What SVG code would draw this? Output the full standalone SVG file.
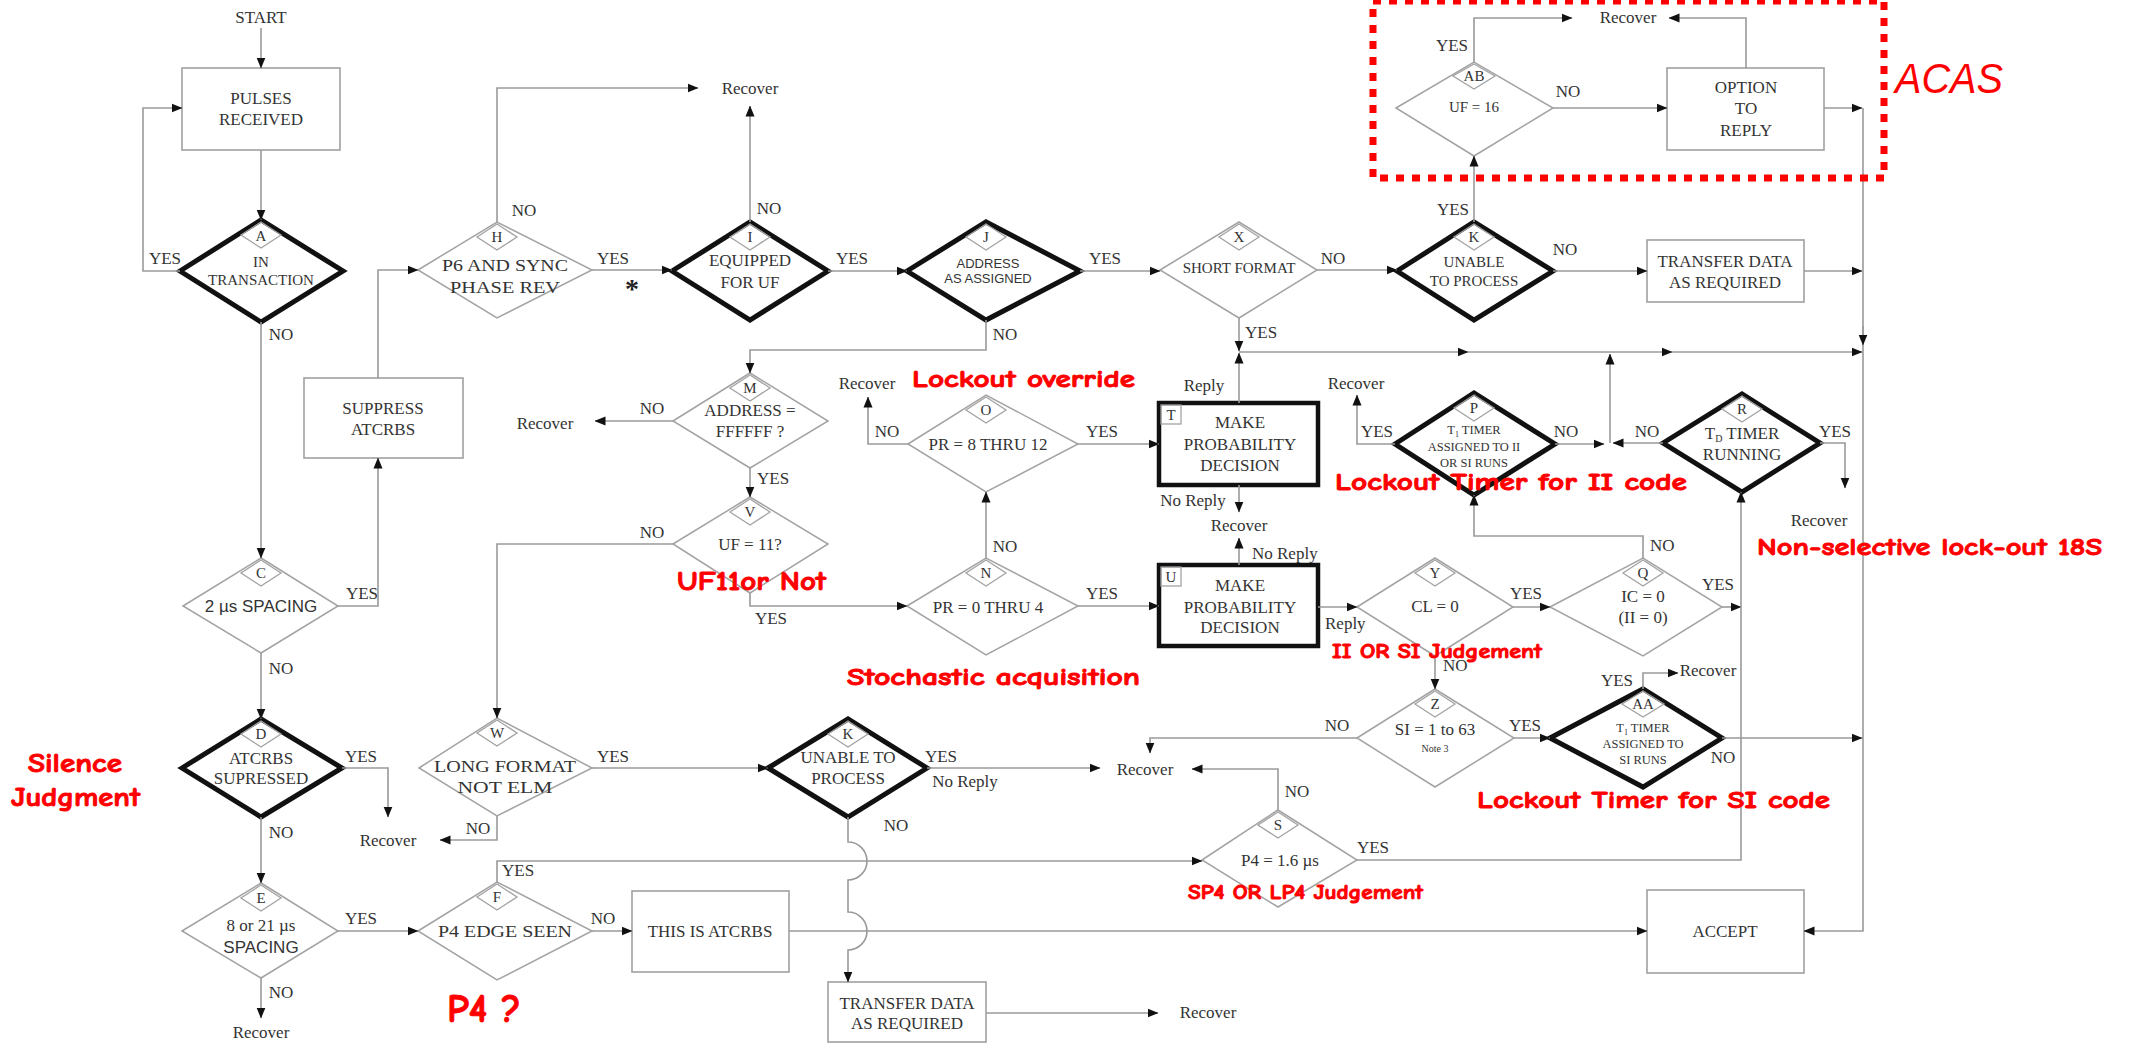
<svg xmlns="http://www.w3.org/2000/svg" width="2133" height="1044" viewBox="0 0 2133 1044">
<defs>
<marker id="ah" markerWidth="11" markerHeight="10" refX="10.5" refY="5" orient="auto" markerUnits="userSpaceOnUse"><path d="M0,0.5 L11,5 L0,9.5 z" fill="#111"/></marker>
<style>
.ln{fill:none;stroke:#9a9a9a;stroke-width:1.6}
.thin{fill:#fff;stroke:#a3a3a3;stroke-width:1.5}
.thick{fill:#fff;stroke:#111;stroke-width:5;stroke-linejoin:miter}
.lbl{fill:none;stroke:#a3a3a3;stroke-width:1.3}
.box{fill:#fff;stroke:#a0a0a0;stroke-width:1.6}
.tbox{fill:#fff;stroke:#111;stroke-width:4.5}
text{font-family:"Liberation Serif","Times New Roman",serif;font-size:17px;fill:#333;text-anchor:middle}
.s{font-family:"Liberation Sans",Arial,sans-serif}
.m{font-size:15px}
.sm{font-size:12.5px}
.l{text-anchor:start}
.red{font-family:"Comic Sans MS","Comic Neue","DejaVu Sans",sans-serif;font-weight:bold;fill:#ff0000;stroke:#ff0000;stroke-width:0.9;text-anchor:start}
</style>
</defs>
<rect width="2133" height="1044" fill="#fff"/>

<g id="nodes">
<g id="start"><text x="261" y="23">START</text></g>
<g id="pulses"><rect class="box" x="182" y="68" width="158" height="82"/><text x="261" y="104">PULSES</text><text x="261" y="125">RECEIVED</text></g>
<g id="A"><polygon class="thick" points="180,271 261,220 343,271 261,322"/><polygon class="lbl" points="261,222 281,235 261,248 241,235"/><text class="m" x="261" y="241">A</text><text class="m" x="261" y="267">IN</text><text class="m" x="261" y="285">TRANSACTION</text></g>
<g id="H"><polygon class="thin" points="418,270 497,222 592,270 497,318"/><polygon class="lbl" points="497,224 517,237 497,250 477,237"/><text class="m" x="497" y="242">H</text><text x="505" y="271" textLength="126" lengthAdjust="spacingAndGlyphs">P6 AND SYNC</text><text x="505" y="293" textLength="110" lengthAdjust="spacingAndGlyphs">PHASE REV</text></g>
<g id="I"><polygon class="thick" points="672,271 750,222 828,271 750,320"/><polygon class="lbl" points="750,224 770,237 750,250 730,237"/><text class="m" x="750" y="242">I</text><text x="750" y="266">EQUIPPED</text><text x="750" y="288">FOR UF</text></g>
<g id="J"><polygon class="thick" points="907,271 986,222 1080,271 986,320"/><polygon class="lbl" points="986,224 1006,237 986,250 966,237"/><text class="m" x="986" y="242">J</text><text class="s" style="font-size:13px" x="988" y="268">ADDRESS</text><text class="s" style="font-size:13px" x="988" y="283">AS ASSIGNED</text></g>
<g id="X"><polygon class="thin" points="1160,270 1239,222 1317,270 1239,318"/><polygon class="lbl" points="1239,224 1259,237 1239,250 1219,237"/><text class="m" x="1239" y="242">X</text><text class="m" x="1239" y="273">SHORT FORMAT</text></g>
<g id="K"><polygon class="thick" points="1397,271 1474,222 1553,271 1474,320"/><polygon class="lbl" points="1474,224 1494,237 1474,250 1454,237"/><text class="m" x="1474" y="242">K</text><text class="m" x="1474" y="267">UNABLE</text><text class="m" x="1474" y="286">TO PROCESS</text></g>
<g id="AB"><polygon class="thin" points="1396,108 1474,62 1553,108 1474,156"/><polygon class="lbl" points="1474,64 1495,76 1474,89 1453,76"/><text class="m" x="1474" y="81">AB</text><text class="m" x="1474" y="112">UF = 16</text></g>
<g id="option"><rect class="box" x="1667" y="68" width="157" height="82"/><text x="1746" y="93">OPTION</text><text x="1746" y="114">TO</text><text x="1746" y="136">REPLY</text></g>
<g id="transfer1"><rect class="box" x="1647" y="240" width="157" height="62"/><text x="1725" y="267">TRANSFER DATA</text><text x="1725" y="288">AS REQUIRED</text></g>
<g id="suppress"><rect class="box" x="304" y="378" width="159" height="80"/><text x="383" y="414">SUPPRESS</text><text x="383" y="435">ATCRBS</text></g>
<g id="M"><polygon class="thin" points="673,421 750,373 828,421 750,468"/><polygon class="lbl" points="750,375 770,388 750,401 730,388"/><text class="m" x="750" y="393">M</text><text x="750" y="416">ADDRESS =</text><text x="750" y="437">FFFFFF ?</text></g>
<g id="O"><polygon class="thin" points="908,444 986,395 1078,444 986,492"/><polygon class="lbl" points="986,397 1006,410 986,423 966,410"/><text class="m" x="986" y="415">O</text><text x="988" y="450">PR = 8 THRU 12</text></g>
<g id="T"><rect class="tbox" x="1159" y="403" width="159" height="82"/><rect class="lbl" x="1161" y="405" width="20" height="19"/><text class="m" x="1171" y="420">T</text><text x="1240" y="428">MAKE</text><text x="1240" y="450">PROBABILITY</text><text x="1240" y="471">DECISION</text></g>
<g id="P"><polygon class="thick" points="1395,444 1474,393 1555,444 1474,495"/><polygon class="lbl" points="1474,395 1494,408 1474,421 1454,408"/><text class="m" x="1474" y="413">P</text><text class="sm" x="1474" y="434">T<tspan font-size="8" dy="3">1</tspan><tspan dy="-3"> TIMER</tspan></text><text class="sm" x="1474" y="451">ASSIGNED TO II</text><text class="sm" x="1474" y="467">OR SI RUNS</text></g>
<g id="R"><polygon class="thick" points="1663,443 1742,394 1820,443 1742,492"/><polygon class="lbl" points="1742,396 1762,409 1742,422 1722,409"/><text class="m" x="1742" y="414">R</text><text x="1742" y="439">T<tspan font-size="10" dy="3">D</tspan><tspan dy="-3"> TIMER</tspan></text><text x="1742" y="460">RUNNING</text></g>
<g id="C"><polygon class="thin" points="183,606 261,558 338,606 261,653"/><polygon class="lbl" points="261,560 281,573 261,586 241,573"/><text class="m" x="261" y="578">C</text><text class="s" x="261" y="612">2 µs SPACING</text></g>
<g id="V"><polygon class="thin" points="673,544 750,497 828,544 750,593"/><polygon class="lbl" points="750,499 770,512 750,525 730,512"/><text class="m" x="750" y="517">V</text><text x="750" y="550">UF = 11?</text></g>
<g id="N"><polygon class="thin" points="907,606 986,558 1078,606 986,655"/><polygon class="lbl" points="986,560 1006,573 986,586 966,573"/><text class="m" x="986" y="578">N</text><text x="988" y="613">PR = 0 THRU 4</text></g>
<g id="U"><rect class="tbox" x="1159" y="565" width="159" height="81"/><rect class="lbl" x="1161" y="567" width="20" height="19"/><text class="m" x="1171" y="582">U</text><text x="1240" y="591">MAKE</text><text x="1240" y="613">PROBABILITY</text><text x="1240" y="633">DECISION</text></g>
<g id="Y"><polygon class="thin" points="1357,607 1435,558 1513,607 1435,656"/><polygon class="lbl" points="1435,560 1455,573 1435,586 1415,573"/><text class="m" x="1435" y="578">Y</text><text x="1435" y="612">CL = 0</text></g>
<g id="Q"><polygon class="thin" points="1550,607 1643,558 1722,607 1643,656"/><polygon class="lbl" points="1643,560 1663,573 1643,586 1623,573"/><text class="m" x="1643" y="578">Q</text><text x="1643" y="602">IC = 0</text><text x="1643" y="623">(II = 0)</text></g>
<g id="D"><polygon class="thick" points="182,768 261,719 342,768 261,817"/><polygon class="lbl" points="261,721 281,734 261,747 241,734"/><text class="m" x="261" y="739">D</text><text x="261" y="764">ATCRBS</text><text x="261" y="784">SUPRESSED</text></g>
<g id="W"><polygon class="thin" points="419,768 497,718 592,768 497,816"/><polygon class="lbl" points="497,720 517,733 497,746 477,733"/><text class="m" x="497" y="738">W</text><text x="505" y="772" textLength="142" lengthAdjust="spacingAndGlyphs">LONG FORMAT</text><text x="505" y="793" textLength="95" lengthAdjust="spacingAndGlyphs">NOT ELM</text></g>
<g id="K2"><polygon class="thick" points="768,768 848,719 927,768 848,817"/><polygon class="lbl" points="848,721 868,734 848,747 828,734"/><text class="m" x="848" y="739">K</text><text x="848" y="763">UNABLE TO</text><text x="848" y="784">PROCESS</text></g>
<g id="Z"><polygon class="thin" points="1357,738 1435,689 1514,738 1435,787"/><polygon class="lbl" points="1435,691 1455,704 1435,717 1415,704"/><text class="m" x="1435" y="709">Z</text><text x="1435" y="735">SI = 1 to 63</text><text x="1435" y="752" style="font-size:10px">Note 3</text></g>
<g id="AA"><polygon class="thick" points="1550,738 1643,689 1722,738 1643,787"/><polygon class="lbl" points="1643,691 1664,704 1643,717 1622,704"/><text class="m" x="1643" y="709">AA</text><text class="sm" x="1643" y="732">T<tspan font-size="8" dy="3">1</tspan><tspan dy="-3"> TIMER</tspan></text><text class="sm" x="1643" y="748">ASSIGNED TO</text><text class="sm" x="1643" y="764">SI RUNS</text></g>
<g id="S"><polygon class="thin" points="1202,860 1278,810 1357,860 1278,907"/><polygon class="lbl" points="1278,812 1298,825 1278,838 1258,825"/><text class="m" x="1278" y="830">S</text><text x="1280" y="866">P4 = 1.6 µs</text></g>
<g id="E"><polygon class="thin" points="182,931 261,883 338,931 261,978"/><polygon class="lbl" points="261,885 281,898 261,911 241,898"/><text class="m" x="261" y="903">E</text><text x="261" y="931">8 or 21 µs</text><text class="s" x="261" y="953">SPACING</text></g>
<g id="F"><polygon class="thin" points="418,931 497,882 592,931 497,980"/><polygon class="lbl" points="497,884 517,897 497,910 477,897"/><text class="m" x="497" y="902">F</text><text x="505" y="937" textLength="134" lengthAdjust="spacingAndGlyphs">P4 EDGE SEEN</text></g>
<g id="atcrbs"><rect class="box" x="632" y="891" width="157" height="81"/><text x="710" y="937">THIS IS ATCRBS</text></g>
<g id="accept"><rect class="box" x="1647" y="890" width="157" height="83"/><text x="1725" y="937">ACCEPT</text></g>
<g id="transfer2"><rect class="box" x="828" y="982" width="158" height="60"/><text x="907" y="1009">TRANSFER DATA</text><text x="907" y="1029">AS REQUIRED</text></g>
</g>

<g id="connectors" class="ln" marker-end="url(#ah)">
<path d="M261,28 V68"/>
<path d="M261,150 V220"/>
<path d="M180,271 H143 V108 H182"/>
<path d="M261,322 V558"/>
<path d="M338,606 H378 V458"/>
<path d="M378,378 V270 H418"/>
<path d="M497,222 V88 H698"/>
<path d="M592,270 H672"/>
<path d="M750,222 V106"/>
<path d="M828,271 H907"/>
<path d="M1080,271 H1160"/>
<path d="M1317,270 H1397"/>
<path d="M1474,222 V156"/>
<path d="M1474,62 V18 H1572"/>
<path d="M1553,108 H1667"/>
<path d="M1746,68 V18 H1669"/>
<path d="M1824,108 H1862"/>
<path d="M1553,271 H1647"/>
<path d="M1804,271 H1862"/>
<path d="M1863,108 V931 H1804"/>
<path d="M1863,326 V345"/>
<path d="M986,320 V350 H750 V373"/>
<path d="M1239,318 V351"/>
<path d="M1239,403 V353"/>
<path d="M1239,352 H1468"/>
<path d="M1468,352 H1672"/>
<path d="M1672,352 H1862"/>
<path d="M673,421 H595"/>
<path d="M750,468 V497"/>
<path d="M673,544 H497 V718"/>
<path d="M750,593 V606 H907"/>
<path d="M986,558 V492"/>
<path d="M908,444 H868 V397"/>
<path d="M1078,444 H1159"/>
<path d="M1239,485 V512"/>
<path d="M1239,565 V538"/>
<path d="M1078,606 H1159"/>
<path d="M1318,607 H1357"/>
<path d="M1395,444 H1357 V395"/>
<path d="M1555,444 H1604"/>
<path d="M1663,443 H1613"/>
<path d="M1610,443 V354"/>
<path d="M1820,443 H1845 V488"/>
<path d="M1643,558 V536 H1474 V495"/>
<path d="M1513,607 H1550"/>
<path d="M1722,607 H1741"/>
<path d="M1435,656 V689"/>
<path d="M1514,738 H1550"/>
<path d="M1643,689 V673 H1678"/>
<path d="M1722,738 H1862"/>
<path d="M1357,738 H1150 V753"/>
<path d="M927,768 H1100"/>
<path d="M1278,810 V769 H1192"/>
<path d="M1357,860 H1741 V492"/>
<path d="M497,882 V861 H1202"/>
<path d="M261,653 V719"/>
<path d="M342,768 H388 V817"/>
<path d="M261,817 V883"/>
<path d="M592,768 H768"/>
<path d="M497,816 V840 H440"/>
<path d="M848,817 V842 A19,19 0 0 1 848,880 V912 A19,19 0 0 1 848,950 V982"/>
<path d="M338,931 H418"/>
<path d="M261,978 V1018"/>
<path d="M592,931 H632"/>
<path d="M789,931 H1647"/>
<path d="M986,1013 H1158"/>
</g>

<g id="labels">
<text x="165" y="264">YES</text>
<text x="281" y="340">NO</text>
<text x="524" y="216">NO</text>
<text x="613" y="264">YES</text>
<text x="632" y="298" style="font-size:28px;font-weight:bold;fill:#222">*</text>
<text x="769" y="214">NO</text>
<text x="852" y="264">YES</text>
<text x="1005" y="340">NO</text>
<text x="1105" y="264">YES</text>
<text x="1333" y="264">NO</text>
<text class="l" x="1245" y="338">YES</text>
<text x="1453" y="215">YES</text>
<text x="1565" y="255">NO</text>
<text x="1452" y="51">YES</text>
<text x="1568" y="97">NO</text>
<text x="1628" y="23">Recover</text>
<text x="750" y="94">Recover</text>
<text x="362" y="599">YES</text>
<text x="281" y="674">NO</text>
<text x="652" y="414">NO</text>
<text x="545" y="429">Recover</text>
<text class="l" x="757" y="484">YES</text>
<text x="652" y="538">NO</text>
<text x="771" y="624">YES</text>
<text x="887" y="437">NO</text>
<text x="867" y="389">Recover</text>
<text x="1102" y="437">YES</text>
<text x="1204" y="391">Reply</text>
<text x="1193" y="506">No Reply</text>
<text x="1239" y="531">Recover</text>
<text x="1005" y="552">NO</text>
<text x="1102" y="599">YES</text>
<text class="l" x="1252" y="559">No Reply</text>
<text class="l" x="1325" y="629">Reply</text>
<text x="1377" y="437">YES</text>
<text x="1356" y="389">Recover</text>
<text x="1566" y="437">NO</text>
<text x="1647" y="437">NO</text>
<text x="1835" y="437">YES</text>
<text x="1819" y="526">Recover</text>
<text x="1526" y="599">YES</text>
<text class="l" x="1443" y="671">NO</text>
<text class="l" x="1650" y="551">NO</text>
<text x="1718" y="590">YES</text>
<text x="1617" y="686">YES</text>
<text x="1708" y="676">Recover</text>
<text x="1723" y="763">NO</text>
<text x="1337" y="731">NO</text>
<text x="1525" y="731">YES</text>
<text x="1145" y="775">Recover</text>
<text x="1297" y="797">NO</text>
<text x="1373" y="853">YES</text>
<text x="361" y="762">YES</text>
<text x="281" y="838">NO</text>
<text x="388" y="846">Recover</text>
<text x="478" y="834">NO</text>
<text x="613" y="762">YES</text>
<text x="941" y="762">YES</text>
<text x="965" y="787">No Reply</text>
<text x="896" y="831">NO</text>
<text x="361" y="924">YES</text>
<text x="281" y="998">NO</text>
<text x="261" y="1038">Recover</text>
<text class="l" x="502" y="876">YES</text>
<text x="603" y="924">NO</text>
<text x="1208" y="1018">Recover</text>
</g>

<g id="acas">
<rect x="1373" y="1" width="511" height="177" fill="none" stroke="#ff0000" stroke-width="7" stroke-dasharray="8 8"/>
<text x="1895" y="93" style="font-family:'Liberation Sans',Arial,sans-serif;font-style:italic;font-size:42px;fill:#ff0000;text-anchor:start" textLength="108" lengthAdjust="spacingAndGlyphs">ACAS</text>
</g>

<g id="annotations">
<text class="red" x="912" y="387" style="font-size:25px" textLength="223" lengthAdjust="spacingAndGlyphs">Lockout override</text>
<text class="red" x="677" y="590" style="font-size:27px" textLength="149" lengthAdjust="spacingAndGlyphs">UF11or Not</text>
<text class="red" x="847" y="685" style="font-size:25px" textLength="293" lengthAdjust="spacingAndGlyphs">Stochastic acquisition</text>
<text class="red" x="1335" y="490" style="font-size:25px" textLength="352" lengthAdjust="spacingAndGlyphs">Lockout Timer for II code</text>
<text class="red" x="1332" y="658" style="font-size:20px" textLength="210" lengthAdjust="spacingAndGlyphs">II OR SI Judgement</text>
<text class="red" x="1757" y="555" style="font-size:25px" textLength="345" lengthAdjust="spacingAndGlyphs">Non-selective lock-out 18S</text>
<text class="red" x="1477" y="808" style="font-size:25px" textLength="353" lengthAdjust="spacingAndGlyphs">Lockout Timer for SI code</text>
<text class="red" x="1188" y="899" style="font-size:20px" textLength="235" lengthAdjust="spacingAndGlyphs">SP4 OR LP4 Judgement</text>
<text class="red" x="28" y="772" style="font-size:26px" textLength="94" lengthAdjust="spacingAndGlyphs">Silence</text>
<text class="red" x="11" y="806" style="font-size:26px" textLength="129" lengthAdjust="spacingAndGlyphs">Judgment</text>
<text class="red" x="447" y="1022" style="font-size:40px" textLength="74" lengthAdjust="spacingAndGlyphs">P4 ?</text>
</g>
</svg>
